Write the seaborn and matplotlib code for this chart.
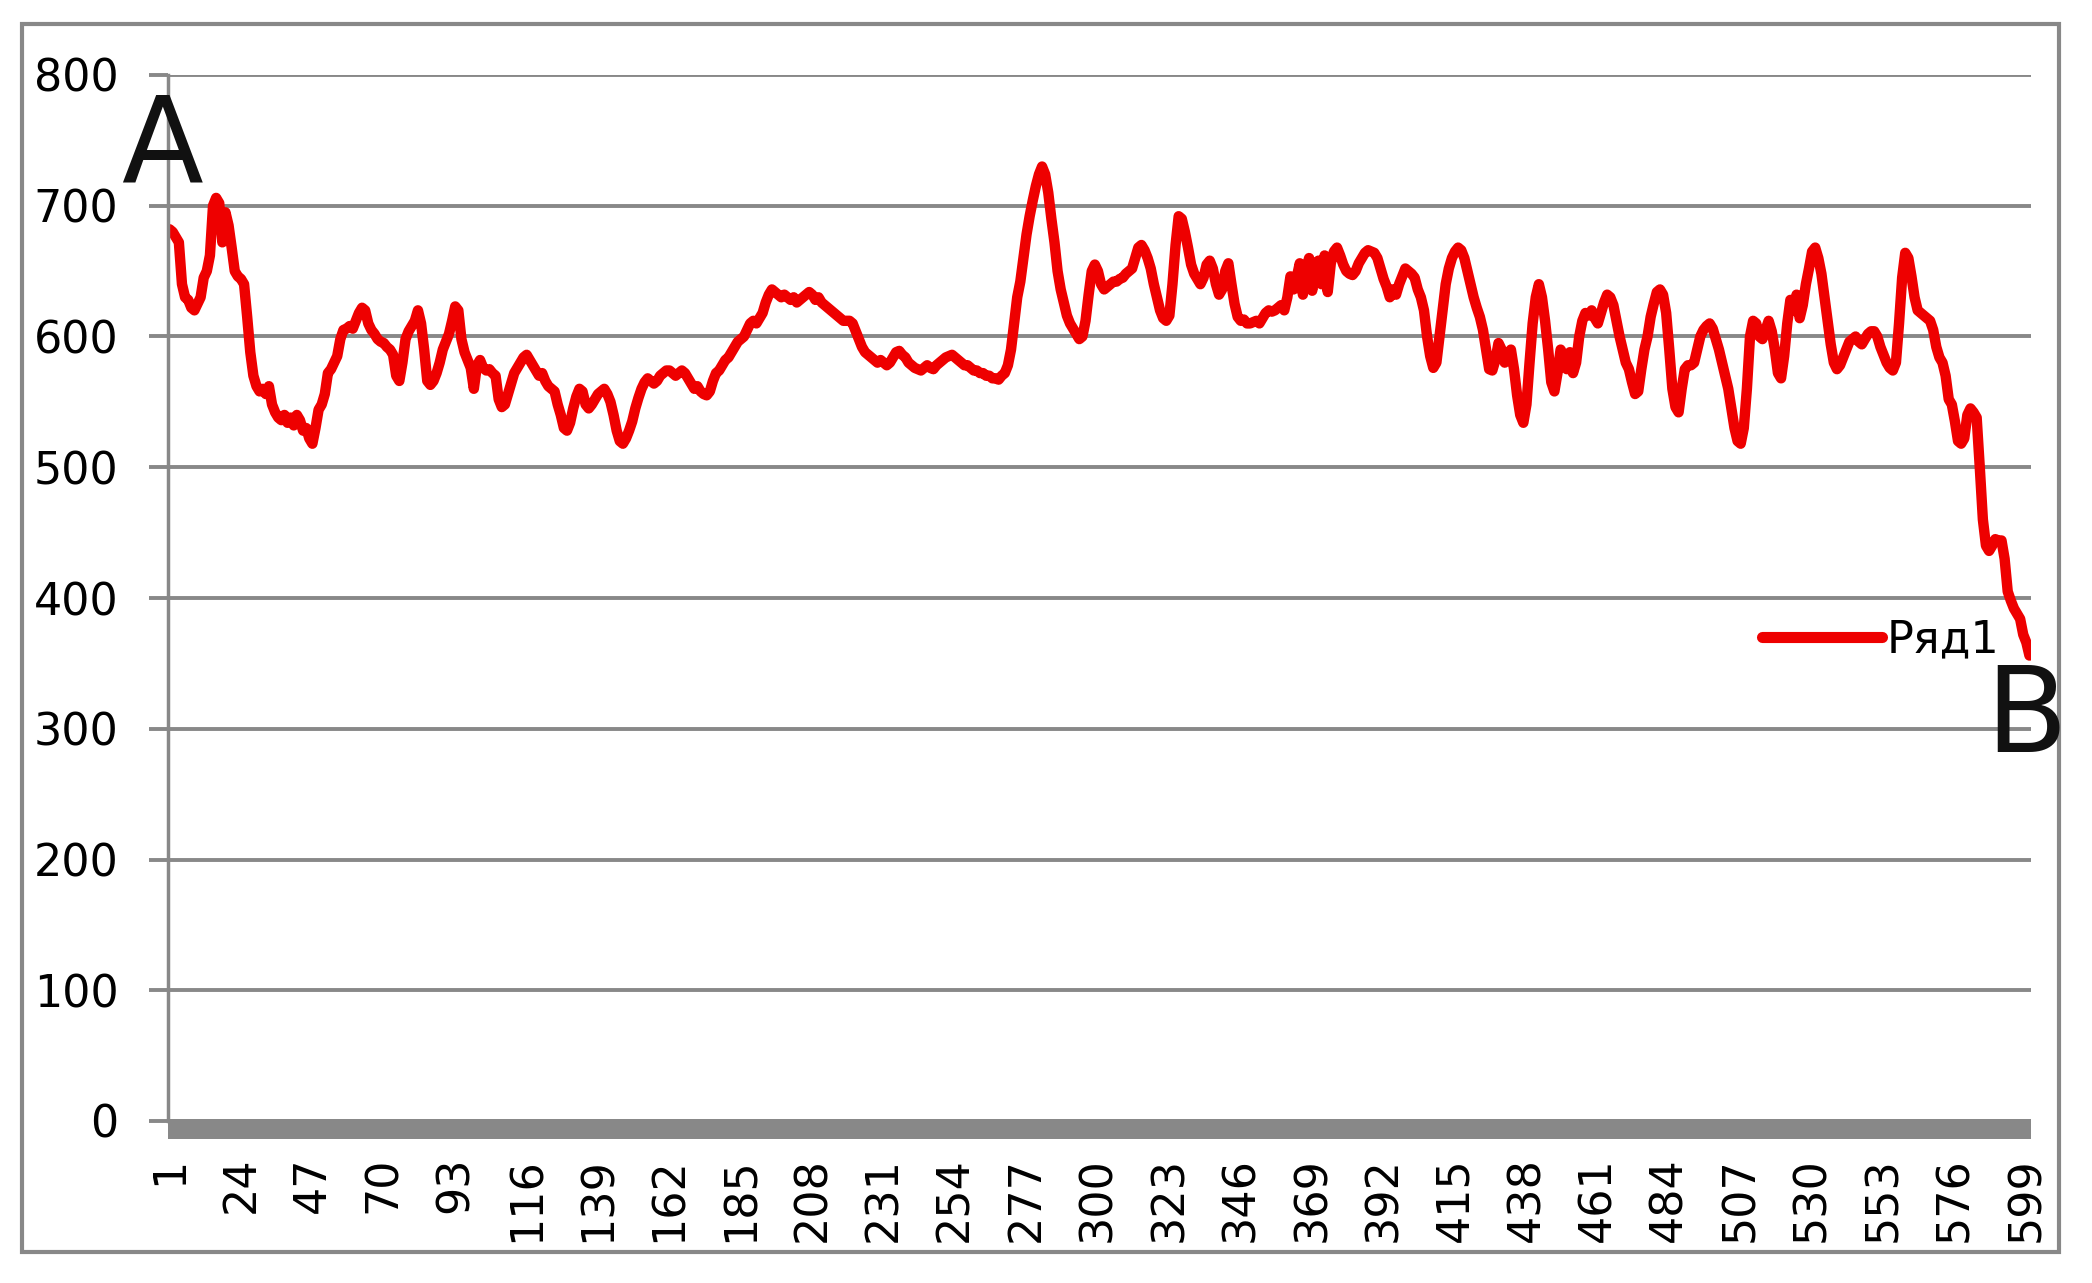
import matplotlib
matplotlib.use("Agg")
import matplotlib.pyplot as plt
from matplotlib.patches import Rectangle
import numpy as np
import pandas as pd
import seaborn as sns

# ---- data ----
series_name = "Ряд1"
series_values = [
    682, 680, 676, 672, 640, 630, 628, 622, 620, 625,
    630, 645, 650, 662, 700, 706, 702, 672, 695, 685,
    668, 650, 646, 644, 640, 615, 588, 570, 562, 558,
    560, 556, 562, 548, 542, 538, 536, 540, 534, 538,
    532, 540, 536, 528, 530, 522, 518, 530, 544, 548,
    556, 572, 575, 580, 585, 598, 605, 606, 608, 606,
    612, 618, 622, 620, 610, 605, 602, 598, 596, 595,
    592, 590, 586, 570, 566, 580, 598, 604, 608, 612,
    620, 610, 590, 566, 563, 566, 572, 580, 590, 596,
    602, 612, 623, 620, 598, 588, 582, 576, 560, 578,
    582, 576, 574, 575, 572, 570, 552, 546, 548, 556,
    564, 572, 576, 580, 584, 586, 582, 578, 574, 570,
    572, 566, 562, 560, 558, 548, 540, 530, 528, 534,
    545, 554, 560, 558, 548, 545, 548, 552, 556, 558,
    560, 556, 550, 540, 528, 520, 518, 522, 528, 535,
    545, 553, 560, 565, 568, 566, 564, 566, 570, 572,
    574, 574, 572, 570, 572, 574, 572, 568, 564, 560,
    562, 558, 556, 555, 558, 566, 572, 574, 578, 582,
    584, 588, 592, 596, 598, 600, 605, 610, 612, 610,
    614, 618, 626, 632, 636, 634, 632, 630, 632, 630,
    628, 630, 626, 628, 630, 632, 634, 632, 628, 630,
    626, 624, 622, 620, 618, 616, 614, 612, 612, 612,
    610, 604, 598, 592, 588, 586, 584, 582, 580, 582,
    580, 578, 580, 584, 588, 589, 586, 584, 580, 578,
    576, 575, 574, 576, 578, 576, 575, 578, 580, 582,
    584, 585, 586, 584, 582, 580, 578, 578, 576, 574,
    574, 572, 572, 570, 570, 568, 568, 567, 570, 572,
    578, 590, 610, 630, 642, 660, 678, 692, 704, 715,
    724, 730, 724, 710, 690, 672, 650, 636, 626, 616,
    610, 606, 602, 598, 600, 612, 632, 650, 655, 650,
    640, 636, 638, 640, 642, 642, 644, 645, 648, 650,
    652, 660, 668, 670, 666, 660, 652, 640, 630, 620,
    614, 612, 616, 640, 670, 692, 690, 680, 668, 655,
    648, 644, 640, 645, 655, 658, 652, 640, 632, 636,
    650, 656, 640, 625, 615, 612, 613, 610, 610, 611,
    612, 610, 614, 618, 620, 619, 620, 622, 624, 620,
    630, 646, 636, 645, 656, 632, 650, 660, 635, 655,
    658, 640, 662, 634, 656, 665, 668, 662, 655, 650,
    648, 647, 650, 656, 660, 664, 666, 665, 664, 660,
    652, 644, 638, 630, 636, 632, 640, 646, 652, 650,
    648, 645, 636, 630, 620, 600, 585, 576, 580, 600,
    620, 640, 652, 660, 665, 668, 666, 660, 650, 640,
    630, 622, 615, 605, 590, 575, 574, 582, 595, 590,
    580, 586, 590, 575, 555, 540, 534, 548, 580, 610,
    630, 640, 630, 612, 590, 565, 558, 572, 590, 585,
    575, 588, 572, 580, 600, 612, 618, 616, 620, 614,
    610, 618, 626, 632, 630, 624, 612, 600, 590, 580,
    575, 565, 556, 558, 575, 590, 600, 615, 625, 634,
    636, 632, 618, 590, 560, 546, 542, 560, 575, 578,
    578, 580, 590, 600, 605, 608, 610, 606, 598, 590,
    580, 570, 560, 545, 530, 520, 518, 530, 560, 600,
    612, 610, 600, 598, 605, 612, 604, 590, 572, 568,
    585, 610, 628, 620, 632, 614, 624, 640, 652, 665,
    668, 660, 648, 630, 612, 594, 580, 575, 578, 584,
    590, 596, 598, 600, 596, 594, 598, 602, 604, 604,
    600, 592, 586, 580, 576, 574, 580, 610, 645, 664,
    660, 646, 630, 620, 618, 616, 614, 612, 605, 592,
    584, 580, 570, 552, 548, 535, 520, 518, 522, 540,
    545, 542, 538, 500, 460, 440, 436, 440, 445, 444,
    444, 430, 405, 398, 392, 388, 384, 372, 366, 356,
]
categories = list(range(1, len(series_values) + 1))
x_tick_labels = [str(v) for v in range(1, 600, 23)]
y_tick_values = [0, 100, 200, 300, 400, 500, 600, 700, 800]
corner_labels = ["A", "B"]

df = pd.DataFrame({"cat": categories, "value": series_values})

# ---- style ----
sns.set_theme(style="white")
plt.rcParams["font.family"] = ["DejaVu Sans"]
plt.rcParams["text.color"] = "black"

W, H = 2092, 1283
fig = plt.figure(figsize=(W / 100, H / 100), dpi=100)
fig.patch.set_facecolor("white")

GRAY = "#888888"
RED = "#ee0000"

ax = fig.add_axes([168 / W, 1 - 1121 / H, (2031 - 168) / W, (1121 - 75) / H])
ax.set_facecolor("white")

sns.lineplot(data=df, x="cat", y="value", ax=ax, color=RED, linewidth=7.5,
             label=series_name, legend=True)

ax.set_xlim(0.5, len(series_values) + 0.5)
ax.set_ylim(0, 800)
ax.set_xlabel("")
ax.set_ylabel("")

ax.set_yticks(y_tick_values)
ax.set_yticklabels([str(v) for v in y_tick_values])
ax.set_xticks([int(t) for t in x_tick_labels])
ax.set_xticklabels(x_tick_labels)

ax.yaxis.grid(True, color=GRAY, linewidth=2.8)
ax.xaxis.grid(False)
ax.set_axisbelow(True)

ax.tick_params(axis="y", direction="out", length=13.7, width=2.8, color=GRAY,
               labelsize=32, pad=22, labelcolor="black", left=True)
ax.tick_params(axis="x", length=0, labelsize=32, pad=20, labelcolor="black",
               bottom=True, labelrotation=90)
for lbl in ax.get_xticklabels():
    lbl.set_rotation(90)
    lbl.set_va("top")
    lbl.set_ha("center")

for s in ("top", "right"):
    ax.spines[s].set_visible(False)
ax.spines["left"].set_color(GRAY)
ax.spines["left"].set_linewidth(2.5)
ax.spines["bottom"].set_color(GRAY)
ax.spines["bottom"].set_linewidth(14.4)
ax.spines["bottom"].set_position(("outward", 5.8))
ax.spines["bottom"].set_capstyle("butt")

leg = ax.legend(loc="center left", bbox_to_anchor=(1762 / W, 1 - 640 / H),
                bbox_transform=fig.transFigure, frameon=False, fontsize=32,
                handlelength=2.7, handletextpad=0.1, borderpad=0, borderaxespad=0)
for ln in leg.get_lines():
    ln.set_linewidth(8)
for t in leg.get_texts():
    t.set_color("black")

# outer frame
fig.add_artist(Rectangle((22 / W, 1 - 1252 / H), (2059 - 22) / W, (1252 - 24) / H,
                         fill=False, edgecolor=GRAY, linewidth=3,
                         transform=fig.transFigure))

# corner letters
fig.text(162 / W, 1 - 182 / H, corner_labels[0], fontsize=86, ha="center",
         va="baseline", color="#111111")
fig.text(2026 / W, 1 - 752 / H, corner_labels[1], fontsize=86, ha="center",
         va="baseline", color="#111111")

fig.savefig("out.png", dpi=100, facecolor="white")
